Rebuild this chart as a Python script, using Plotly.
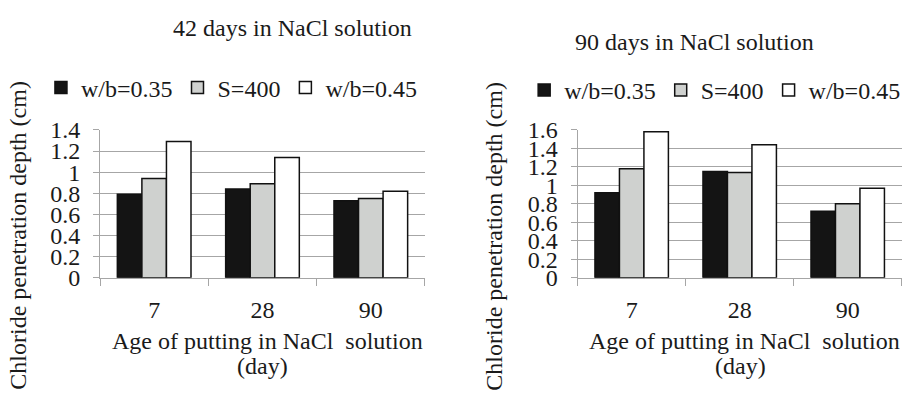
import plotly.graph_objects as go

categories = ["7", "28", "90"]
series_names = ["w/b=0.35", "S=400", "w/b=0.45"]
colors = ["#141414", "#cfd1cf", "#ffffff"]

left_wb035 = [0.79, 0.84, 0.73]
left_s400 = [0.94, 0.89, 0.75]
left_wb045 = [1.29, 1.14, 0.82]

right_wb035 = [0.92, 1.15, 0.72]
right_s400 = [1.18, 1.14, 0.80]
right_wb045 = [1.58, 1.44, 0.97]

left_ticks = [0, 0.2, 0.4, 0.6, 0.8, 1, 1.2, 1.4]
right_ticks = [0, 0.2, 0.4, 0.6, 0.8, 1, 1.2, 1.4, 1.6]

FONT = "'Liberation Serif', 'Times New Roman', Times, 'DejaVu Serif', serif"
TXT = "#1a1a1a"
GRID = "#a6a6a6"
FS = 24

fig = go.Figure()
for name, col, vals in zip(series_names, colors, [left_wb035, left_s400, left_wb045]):
    fig.add_trace(go.Bar(x=categories, y=vals, name=name, marker=dict(color=col, line=dict(color="#111111", width=1.5)),
                         xaxis="x", yaxis="y", legend="legend"))
for name, col, vals in zip(series_names, colors, [right_wb035, right_s400, right_wb045]):
    fig.add_trace(go.Bar(x=categories, y=vals, name=name, marker=dict(color=col, line=dict(color="#111111", width=1.5)),
                         xaxis="x2", yaxis="y2", legend="legend2"))

ydom = [0.2995, 0.6906]
xcommon = dict(type="category", showgrid=False, showline=True, linecolor=GRID, linewidth=1,
               ticks="outside", ticklen=7, tickcolor=GRID, tickson="boundaries",
               tickfont=dict(family=FONT, size=FS, color=TXT), ticklabelstandoff=10)
ycommon = dict(showgrid=True, gridcolor=GRID, gridwidth=1, showline=True, linecolor=GRID, linewidth=1,
               ticks="outside", ticklen=6, tickcolor=GRID, zeroline=False,
               tickfont=dict(family=FONT, size=FS, color=TXT), ticklabelstandoff=8)

fig.update_layout(
    width=910, height=404, margin=dict(l=0, r=0, t=0, b=0),
    paper_bgcolor="white", plot_bgcolor="white",
    barmode="group", bargap=0.32, bargroupgap=0,
    font=dict(family=FONT, size=FS, color=TXT),
    xaxis=dict(domain=[0.1099, 0.467], anchor="y", **xcommon),
    yaxis=dict(domain=ydom, anchor="x", range=[0, 1.4], tickvals=left_ticks,
               ticktext=[f"{v:g}" for v in left_ticks], **ycommon),
    xaxis2=dict(domain=[0.6348, 0.9909], anchor="y2", **xcommon),
    yaxis2=dict(domain=ydom, anchor="x2", range=[0, 1.6], tickvals=right_ticks,
                ticktext=[f"{v:g}" for v in right_ticks], **ycommon),
    legend=dict(orientation="h", x=0.045, y=0.802, xanchor="left", yanchor="middle",
                font=dict(family=FONT, size=FS, color=TXT), itemwidth=30, bgcolor="rgba(0,0,0,0)"),
    legend2=dict(orientation="h", x=0.576, y=0.795, xanchor="left", yanchor="middle",
                 font=dict(family=FONT, size=FS, color=TXT), itemwidth=30, bgcolor="rgba(0,0,0,0)"),
    showlegend=True,
)

ann = [
    dict(text="42 days in NaCl solution", x=292/910, y=1-16/404),
    dict(text="90 days in NaCl solution", x=694/910, y=1-31/404),
    dict(text="Age of putting in NaCl\u00a0 solution", x=267/910, y=1-351/404),
    dict(text="(day)", x=262/910, y=1-377/404),
    dict(text="Age of putting in NaCl\u00a0 solution", x=744/910, y=1-351/404),
    dict(text="(day)", x=740/910, y=1-377/404),
    dict(text="Chloride penetration depth (cm)", x=18/910, y=1-238/404, textangle=-90),
    dict(text="Chloride penetration depth (cm)", x=494/910, y=1-238/404, textangle=-90),
]
for a in ann:
    fig.add_annotation(xref="paper", yref="paper", showarrow=False, xanchor="center", yanchor="middle",
                       font=dict(family=FONT, size=FS, color=TXT), **a)

fig.write_html("out.html")
